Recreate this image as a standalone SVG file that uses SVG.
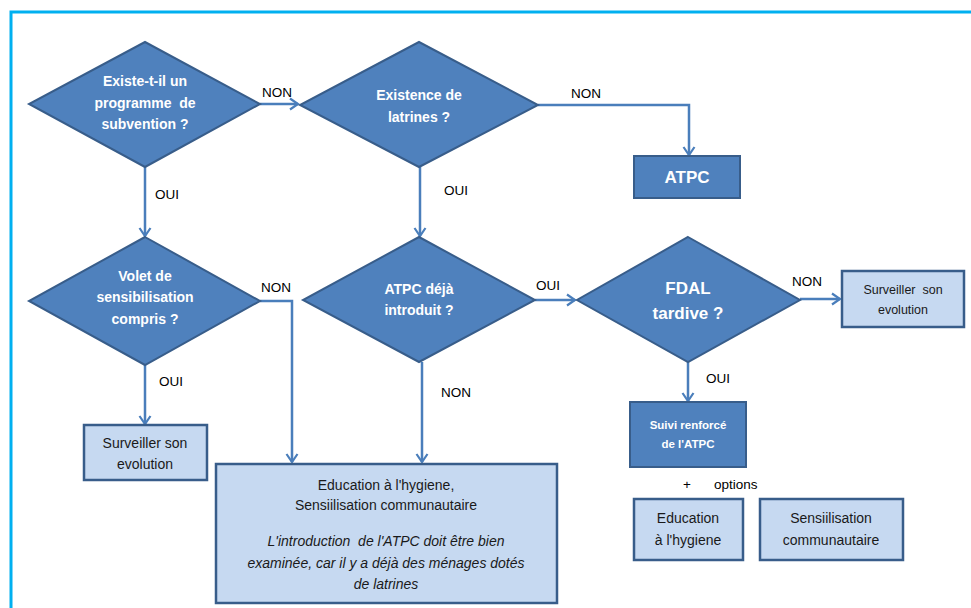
<svg xmlns="http://www.w3.org/2000/svg" width="971" height="608" viewBox="0 0 971 608">
<defs>
<style>
.dk{fill:#4f81bd;stroke:#385d8a;stroke-width:2}
.lt{fill:#c6d9f1;stroke:#385d8a;stroke-width:2.5}
.wt{fill:#fff;font-family:"Liberation Sans",Arial,sans-serif;font-weight:bold;font-size:14px;text-anchor:middle;white-space:pre}
.bk{fill:#1a1a1a;font-family:"Liberation Sans",Arial,sans-serif;font-size:14px;text-anchor:middle;white-space:pre}
.lb{fill:#000;font-family:"Liberation Sans",Arial,sans-serif;font-size:13.5px}
.cn{fill:none;stroke:#4a7ebb;stroke-width:2.5}
</style>
<marker id="ar" markerUnits="userSpaceOnUse" markerWidth="14" markerHeight="14" refX="11" refY="7" orient="auto">
<path d="M3,1.5 L11,7 L3,12.5" fill="none" stroke="#4a7ebb" stroke-width="2.2"/>
</marker>
</defs>
<rect x="11" y="12" width="980" height="620" fill="#fff" stroke="#00b0f0" stroke-width="3"/>

<g id="connectors">
<path class="cn" d="M260,104 L298,104" marker-end="url(#ar)"/>
<path class="cn" d="M538,105 L689,105 L689,155" marker-end="url(#ar)"/>
<path class="cn" d="M145,167 L145,236" marker-end="url(#ar)"/>
<path class="cn" d="M420,167 L420,236" marker-end="url(#ar)"/>
<path class="cn" d="M260,301 L292,301 L292,462" marker-end="url(#ar)"/>
<path class="cn" d="M145,365 L145,424" marker-end="url(#ar)"/>
<path class="cn" d="M535,300 L575,300" marker-end="url(#ar)"/>
<path class="cn" d="M422,362 L422,462" marker-end="url(#ar)"/>
<path class="cn" d="M800,299 L840,299" marker-end="url(#ar)"/>
<path class="cn" d="M688,362 L688,401" marker-end="url(#ar)"/>
<text class="lb" x="262" y="97">NON</text>
<text class="lb" x="571" y="98">NON</text>
<text class="lb" x="155" y="199">OUI</text>
<text class="lb" x="444" y="195">OUI</text>
<text class="lb" x="261" y="292">NON</text>
<text class="lb" x="159" y="386">OUI</text>
<text class="lb" x="536" y="290">OUI</text>
<text class="lb" x="441" y="397">NON</text>
<text class="lb" x="792" y="286">NON</text>
<text class="lb" x="706" y="383">OUI</text>
</g>

<g id="d1">
<polygon class="dk" points="145,42 260,104 145,167 29,104"/>
<text class="wt" x="145" y="86">Existe-t-il un</text>
<text class="wt" x="145" y="108" xml:space="preserve">programme  de</text>
<text class="wt" x="145" y="129">subvention ?</text>
</g>
<g id="d2">
<polygon class="dk" points="419,42 538,105 419,167 300,105"/>
<text class="wt" x="419" y="100">Existence de</text>
<text class="wt" x="419" y="122">latrines ?</text>
</g>
<g id="atpc">
<rect class="dk" x="634" y="156" width="106" height="42"/>
<text class="wt" x="687" y="183" style="font-size:17px">ATPC</text>
</g>
<g id="d3">
<polygon class="dk" points="145,237 260,301 145,365 29,301"/>
<text class="wt" x="145" y="281">Volet de</text>
<text class="wt" x="145" y="302">sensibilisation</text>
<text class="wt" x="145" y="324">compris ?</text>
</g>
<g id="d4">
<polygon class="dk" points="419,237 535,300 419,362 303,300"/>
<text class="wt" x="419" y="294">ATPC déjà</text>
<text class="wt" x="419" y="315">introduit ?</text>
</g>
<g id="d5">
<polygon class="dk" points="688,237 800,300 688,362 577,300"/>
<text class="wt" x="688" y="294" style="font-size:17px">FDAL</text>
<text class="wt" x="688" y="319" style="font-size:17px">tardive ?</text>
</g>
<g id="surv1">
<rect class="lt" x="84" y="425" width="123" height="55"/>
<text class="bk" x="145" y="448">Surveiller son</text>
<text class="bk" x="145" y="469">evolution</text>
</g>
<g id="surv2">
<rect class="lt" x="842" y="271" width="122" height="56"/>
<text class="bk" x="903" y="294" style="font-size:12.5px" xml:space="preserve">Surveiller  son</text>
<text class="bk" x="903" y="314" style="font-size:12.5px">evolution</text>
</g>
<g id="suivi">
<rect class="dk" x="630" y="402" width="116" height="65"/>
<text class="wt" x="688" y="429" style="font-size:11.5px">Suivi renforcé</text>
<text class="wt" x="688" y="448" style="font-size:11.5px">de l'ATPC</text>
</g>
<g id="edu-big">
<rect class="lt" x="216" y="464" width="341" height="139"/>
<text class="bk" x="386" y="490">Education à l'hygiene,</text>
<text class="bk" x="386" y="510">Sensiilisation communautaire</text>
<text class="bk" x="386" y="546" font-style="italic" xml:space="preserve">L'introduction  de l'ATPC doit être bien</text>
<text class="bk" x="386" y="568" font-style="italic">examinée, car il y a déjà des ménages dotés</text>
<text class="bk" x="386" y="589" font-style="italic">de latrines</text>
</g>
<g id="options">
<text class="lb" x="683" y="489">+</text>
<text class="lb" x="714" y="489">options</text>
</g>
<g id="edu-small">
<rect class="lt" x="634" y="499" width="109" height="61"/>
<text class="bk" x="688" y="523">Education</text>
<text class="bk" x="688" y="545">à l'hygiene</text>
</g>
<g id="sens-small">
<rect class="lt" x="760" y="499" width="143" height="61"/>
<text class="bk" x="831" y="523">Sensiilisation</text>
<text class="bk" x="831" y="545">communautaire</text>
</g>
</svg>
